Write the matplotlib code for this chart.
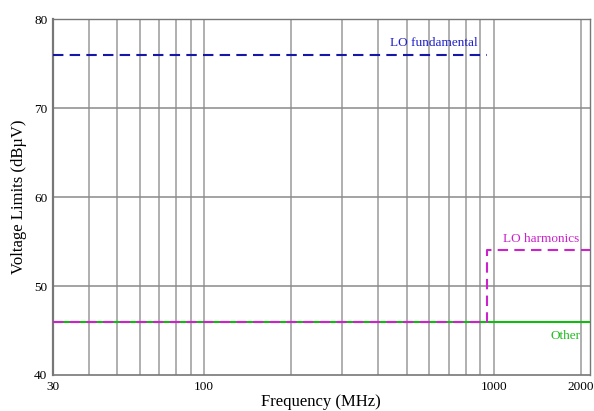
import matplotlib
matplotlib.use("Agg")
import matplotlib.pyplot as plt
from matplotlib.ticker import FixedLocator, NullFormatter

plt.rcParams['font.family'] = ['Liberation Serif', 'DejaVu Serif']

# limit lines (MHz, dBuV)
x_min, x_max = 30, 2150
f_split = 950

fund_x = [30, f_split]
fund_y = [76, 76]

harm_x = [30, f_split, f_split, x_max]
harm_y = [46, 46, 54, 54]

other_x = [30, x_max]
other_y = [46, 46]

xticks = [30, 100, 1000, 2000]
xgrid = [40, 50, 60, 70, 80, 90, 100, 200, 300, 400, 500, 600, 700, 800, 900, 1000, 2000]
yticks = [40, 50, 60, 70, 80]

fig = plt.figure(figsize=(5.94, 4.11), dpi=100)
ax = fig.add_axes([0.089, 0.0876, 0.904, 0.866])
ax.set_xscale('log')
ax.set_xlim(x_min, x_max)
ax.set_ylim(40, 80)

for g in xgrid:
    ax.axvline(g, color='#9a9a9a', lw=1.1, zorder=1)
for g in yticks[1:-1]:
    ax.axhline(g, color='#8a8a8a', lw=1.1, zorder=1)

ax.plot(other_x, other_y, color='#11bb11', lw=1.5, zorder=3)
ax.plot(harm_x, harm_y, color='#cc22cc', lw=1.5, ls=(0, (5, 3)), zorder=4)
ax.plot(fund_x, fund_y, color='#1616a8', lw=1.5, ls=(0, (5, 3)), zorder=4)

ax.text(880, 76.6, 'LO fundamental', color='#2020cc', fontsize=9.5, ha='right', va='bottom')
ax.text(1980, 54.6, 'LO harmonics', color='#cc22cc', fontsize=9.5, ha='right', va='bottom')
ax.text(2000, 45.1, 'Other', color='#22bb22', fontsize=9.5, ha='right', va='top')

ax.xaxis.set_major_locator(FixedLocator(xticks))
ax.xaxis.set_minor_formatter(NullFormatter())
ax.set_xticks(xticks, [str(t) for t in xticks])
ax.xaxis.set_minor_locator(FixedLocator([]))
ax.set_yticks(yticks)
ax.tick_params(length=0, labelsize=9.5, pad=4)

for s in ax.spines.values():
    s.set_color('#777777')
    s.set_linewidth(1.0)
ax.spines['left'].set_linewidth(1.6)
ax.spines['bottom'].set_linewidth(1.2)

ax.set_xlabel('Frequency (MHz)', fontsize=12, labelpad=1)
ax.set_ylabel('Voltage Limits (dBµV)', fontsize=12, labelpad=5)

fig.savefig('out.png', dpi=100)
